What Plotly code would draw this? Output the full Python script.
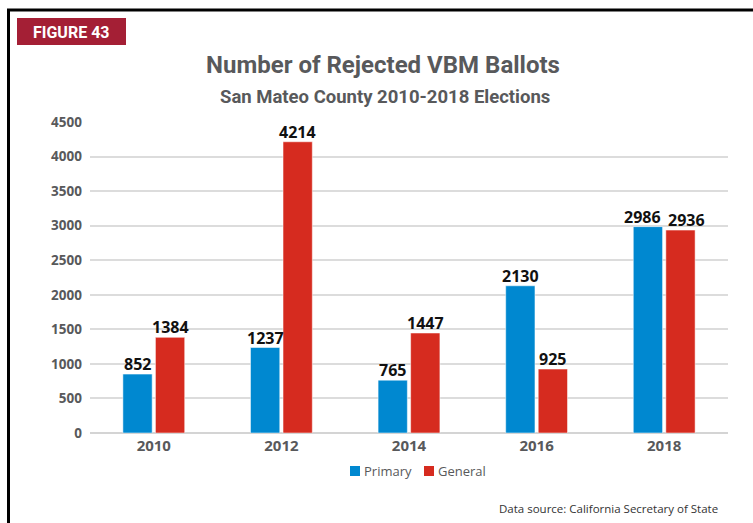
import plotly.graph_objects as go

# Rejected vote-by-mail ballots, San Mateo County
years = ["2010", "2012", "2014", "2016", "2018"]
primary = [852, 1237, 765, 2130, 2986]
general = [1384, 4214, 1447, 925, 2936]
y_ticks = [0, 500, 1000, 1500, 2000, 2500, 3000, 3500, 4000, 4500]

W, H = 753, 523
L, R, T, B = 90, 25, 122, 90
PW, PH = W - L - R, H - T - B


def px(x):
    return (x - L) / PW


def py(y):
    return (H - B - y) / PH


BLUE = "#0088d0"
RED = "#d62b1f"
GRAY = "#58595b"
FONT = "Open Sans"
HEAD = "Roboto"

BARGAP, GROUPGAP = 0.49, 0.1
# horizontal offset of each bar centre from its category centre (axis units)
half_slot = (1 - BARGAP) / 4
series = [("Primary", primary, BLUE, -half_slot), ("General", general, RED, half_slot)]

fig = go.Figure()
for name, vals, color, _ in series:
    fig.add_trace(go.Bar(
        name=name, x=years, y=vals,
        marker=dict(color=color, line=dict(color="rgba(255,255,255,0.5)", width=1)),
    ))

shapes = [
    dict(type="line", xref="paper", yref="paper", x0=px(8.5), x1=px(8.5),
         y0=py(10), y1=py(H + 5), line=dict(color="black", width=3)),
    dict(type="line", xref="paper", yref="paper", x0=px(7), x1=px(W + 5),
         y0=py(10), y1=py(10), line=dict(color="black", width=3)),
    dict(type="rect", xref="paper", yref="paper", x0=px(17), x1=px(126),
         y0=py(45), y1=py(18), fillcolor="#a41f35", line=dict(width=0), layer="below"),
]


def paper_text(text, x, y, font, xanchor="center"):
    return dict(text=text, xref="paper", yref="paper", x=px(x), y=py(y),
                xanchor=xanchor, yanchor="middle", showarrow=False, font=font)


annotations = [
    paper_text("FIGURE 43", 71.5, 32, dict(family=HEAD, size=16, color="white", weight="bold")),
    paper_text("Number of Rejected VBM Ballots", 383, 65,
               dict(family=HEAD, size=24, color=GRAY, weight="bold")),
    paper_text("San Mateo County 2010-2018 Elections", 385, 97,
               dict(family=HEAD, size=18.5, color=GRAY, weight="bold")),
    paper_text("Data source: California Secretary of State", 720, 508,
               dict(family=FONT, size=11.5, color="#333333"), xanchor="right"),
]

# Value labels above each bar; the last pair is nudged apart so the numbers do not collide
nudge = {("Primary", 4): -5, ("General", 4): 6}
for name, vals, _, off in series:
    for i, v in enumerate(vals):
        annotations.append(dict(
            text=str(v), xref="x", yref="y", x=i + off, y=v,
            xanchor="center", yanchor="bottom", yshift=-3, xshift=nudge.get((name, i), 0),
            showarrow=False,
            font=dict(family=FONT, size=16, color="#111111", weight="bold"),
        ))

# Legend: colour swatch followed by the series name
legend_x = [350, 424]
for (name, _, color, _), lx in zip(series, legend_x):
    shapes.append(dict(type="rect", xref="paper", yref="paper", x0=px(lx), x1=px(lx + 10),
                       y0=py(476), y1=py(466), fillcolor=color, line=dict(width=0)))
    annotations.append(paper_text(name, lx + 12, 471,
                                  dict(family=FONT, size=13, color=GRAY), xanchor="left"))

fig.update_layout(
    width=W, height=H,
    margin=dict(l=L, r=R, t=T, b=B),
    paper_bgcolor="white", plot_bgcolor="white",
    barmode="group", bargap=BARGAP, bargroupgap=GROUPGAP,
    showlegend=False,
    xaxis=dict(tickfont=dict(family=FONT, size=15, color=GRAY, weight="bold"),
               showline=False, ticks="", ticklabelstandoff=2),
    yaxis=dict(range=[0, 4500], tickvals=y_ticks, showgrid=True, gridcolor="#dcdcdc",
               gridwidth=1.5, zeroline=True, zerolinecolor="#d4d4d4", zerolinewidth=2,
               tickfont=dict(family=FONT, size=13.5, color=GRAY, weight="bold"),
               ticks="", ticklabelstandoff=7),
    shapes=shapes,
    annotations=annotations,
)

fig.write_html("out.html")
